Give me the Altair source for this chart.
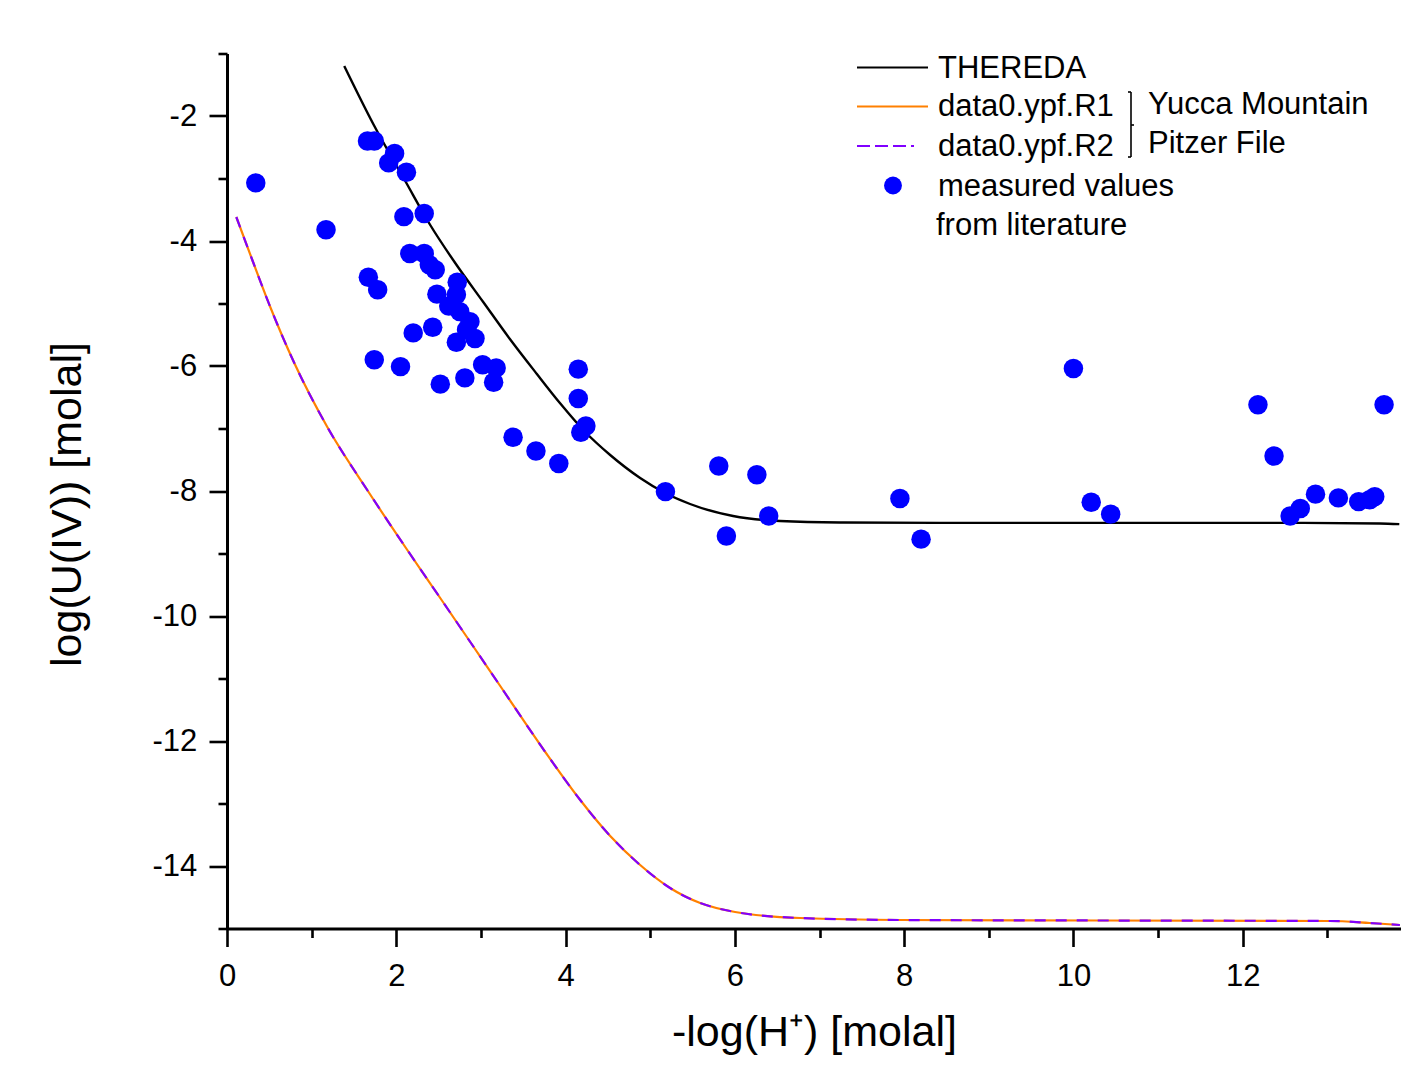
import altair as alt
import pandas as pd

FONT = "Liberation Sans"

# THEREDA model curve
thereda_x = [1.385, 1.728, 2.106, 2.401, 2.696, 3.027, 3.342, 3.661, 3.933, 4.232, 4.527, 4.881,
             5.176, 5.471, 5.979, 6.534, 7.243, 8.42, 10.31, 12.67, 13.62, 13.85]
thereda_y = [-1.200, -2.128, -3.040, -3.744, -4.352, -4.976, -5.568, -6.128, -6.592, -7.056,
             -7.424, -7.792, -8.032, -8.208, -8.400, -8.480, -8.504, -8.51, -8.51, -8.51, -8.52, -8.53]

# data0.ypf.R1 (Yucca Mountain Pitzer file)
r1_x = [0.110, 0.299, 0.511, 0.795, 1.185, 1.657, 2.130, 2.519, 2.874, 3.228, 3.760, 4.173,
        4.527, 4.881, 5.235, 5.590, 6.003, 6.771, 7.952, 10.314, 13.030, 13.502, 13.857]
r1_y = [-3.616, -4.304, -5.056, -5.952, -6.976, -7.984, -8.944, -9.712, -10.416, -11.120,
        -12.176, -12.944, -13.520, -13.984, -14.352, -14.592, -14.736, -14.832, -14.864,
        -14.872, -14.880, -14.912, -14.944]

# data0.ypf.R2 (coincides with R1)
r2_x = [0.110, 0.299, 0.511, 0.795, 1.185, 1.657, 2.130, 2.519, 2.874, 3.228, 3.760, 4.173,
        4.527, 4.881, 5.235, 5.590, 6.003, 6.771, 7.952, 10.314, 13.030, 13.502, 13.857]
r2_y = [-3.616, -4.304, -5.056, -5.952, -6.976, -7.984, -8.944, -9.712, -10.416, -11.120,
        -12.176, -12.944, -13.520, -13.984, -14.352, -14.592, -14.736, -14.832, -14.864,
        -14.872, -14.880, -14.912, -14.944]

# measured values from literature
meas_x = [0.34, 1.17, 1.66, 1.74, 1.98, 1.91, 2.12, 2.09, 2.33, 2.16, 2.33, 2.39, 2.46, 1.67,
          1.78, 2.72, 2.48, 2.71, 2.62, 2.75, 2.87, 2.83, 2.20, 2.43, 2.71, 2.93, 1.74, 2.05,
          2.52, 2.81, 3.02, 3.18, 3.15, 4.15, 4.15, 4.24, 4.18, 3.38, 3.65, 3.92, 5.18, 5.81,
          6.26, 6.40, 5.90, 7.95, 8.20, 10.00, 10.21, 10.44, 12.18, 12.37, 12.56, 12.68, 12.86,
          13.13, 13.37, 13.50, 13.56, 13.67]
meas_y = [-3.07, -3.82, -2.40, -2.40, -2.60, -2.75, -2.90, -3.61, -3.56, -4.20, -4.20, -4.38,
          -4.46, -4.58, -4.78, -4.66, -4.85, -4.86, -5.04, -5.13, -5.29, -5.42, -5.47, -5.38,
          -5.62, -5.56, -5.90, -6.01, -6.29, -6.19, -5.98, -6.03, -6.26, -6.05, -6.52, -6.96,
          -7.06, -7.14, -7.36, -7.56, -8.01, -7.60, -7.74, -8.40, -8.72, -8.12, -8.77, -6.04,
          -8.18, -8.37, -6.62, -7.44, -8.40, -8.28, -8.05, -8.11, -8.17, -8.14, -8.09, -6.62]

x_ticks = list(range(0, 14))
y_ticks = list(range(-15, 0))

thereda = pd.DataFrame({"x": thereda_x, "y": thereda_y})
r1 = pd.DataFrame({"x": r1_x, "y": r1_y})
r2 = pd.DataFrame({"x": r2_x, "y": r2_y})
meas = pd.DataFrame({"x": meas_x, "y": meas_y})

x_scale = alt.Scale(domain=[0, 13.87], nice=False, zero=False)
y_scale = alt.Scale(domain=[-15, -1], nice=False, zero=False)

even = "datum.value % 2 === 0"
tick_size = {"condition": {"test": even, "value": 18}, "value": 9}
label_expr = f"{even} ? '' + datum.value : ''"

x_axis = alt.Axis(
    values=x_ticks, title="-log(H⁺) [molal]", grid=False, labelExpr=label_expr,
    tickSize=tick_size, tickWidth=2.6, tickColor="black", domainColor="black", domainWidth=3,
    labelFont=FONT, labelFontSize=31, labelColor="black", labelPadding=14.5,
    labelFlush=False, labelOverlap=False,
    titleFont=FONT, titleFontSize=43, titleFontWeight="normal", titleColor="black",
    titleY=117, titleBaseline="alphabetic",
)
y_axis = alt.Axis(
    values=y_ticks, title="log(U(IV)) [molal]", grid=False, labelExpr=label_expr,
    tickSize=tick_size, tickWidth=2.6, tickColor="black", domainColor="black", domainWidth=3,
    labelFont=FONT, labelFontSize=31, labelColor="black", labelPadding=12.3,
    labelFlush=False, labelOverlap=False,
    titleFont=FONT, titleFontSize=43, titleFontWeight="normal", titleColor="black",
    titleAngle=270, titleX=-147, titleY=450.5, titleBaseline="alphabetic", titleAlign="center",
)

X = alt.X("x:Q", scale=x_scale, axis=x_axis)
Y = alt.Y("y:Q", scale=y_scale, axis=y_axis)

base_line = alt.Chart(thereda).mark_line(color="black", strokeWidth=2.4, interpolate="monotone").encode(x=X, y=Y)
r1_line = alt.Chart(r1).mark_line(color="#FF8000", strokeWidth=2.2, interpolate="monotone").encode(x=X, y=Y)
r2_line = alt.Chart(r2).mark_line(color="#8000FF", strokeWidth=2.2, strokeDash=[11, 10],
                                  interpolate="monotone").encode(x=X, y=Y)
points = alt.Chart(meas).mark_circle(color="#0000FF", size=380, opacity=1).encode(x=X, y=Y)

one = alt.Data(values=[{}])


def legend_text(txt, x, y):
    return alt.Chart(one).mark_text(font=FONT, fontSize=31, color="black", align="left",
                                    baseline="middle").encode(
        x=alt.value(x), y=alt.value(y), text=alt.value(txt))


def legend_rule(x1, x2, y1, y2, color="black", width=2.2, dash=None):
    kw = dict(color=color, strokeWidth=width)
    if dash:
        kw["strokeDash"] = dash
    return alt.Chart(one).mark_rule(**kw).encode(
        x=alt.value(x1), x2=alt.value(x2), y=alt.value(y1), y2=alt.value(y2))


legend = [
    legend_rule(630, 701, 14, 14),
    legend_text("THEREDA", 711, 15),
    legend_rule(630, 701, 53, 53, color="#FF8000"),
    legend_text("data0.ypf.R1", 711, 53),
    legend_rule(630, 687, 92.5, 92.5, color="#8000FF", dash=[13, 5]),
    legend_text("data0.ypf.R2", 711, 93),
    alt.Chart(one).mark_circle(color="#0000FF", size=320, opacity=1).encode(
        x=alt.value(666), y=alt.value(132)),
    legend_text("measured values", 711, 133),
    legend_text("from literature", 709, 172),
    legend_rule(904, 904, 38.5, 103.5, width=1.6),
    legend_rule(901, 904, 38.5, 38.5, width=1.6),
    legend_rule(901, 904, 103.5, 103.5, width=1.6),
    legend_rule(904, 907, 71.5, 71.5, width=1.6),
    legend_text("Yucca Mountain", 921, 51.5),
    legend_text("Pitzer File", 921, 90.5),
]

chart = alt.layer(base_line, r1_line, r2_line, points, *legend).properties(
    width=1174, height=875,
    padding={"left": 219, "top": 45.5, "right": 0, "bottom": 129},
    autosize=alt.AutoSizeParams(type="none"),
    background="white",
).configure_view(stroke="transparent", strokeWidth=0)

chart.save("out.html", embed_options={"renderer": "svg", "actions": False})
